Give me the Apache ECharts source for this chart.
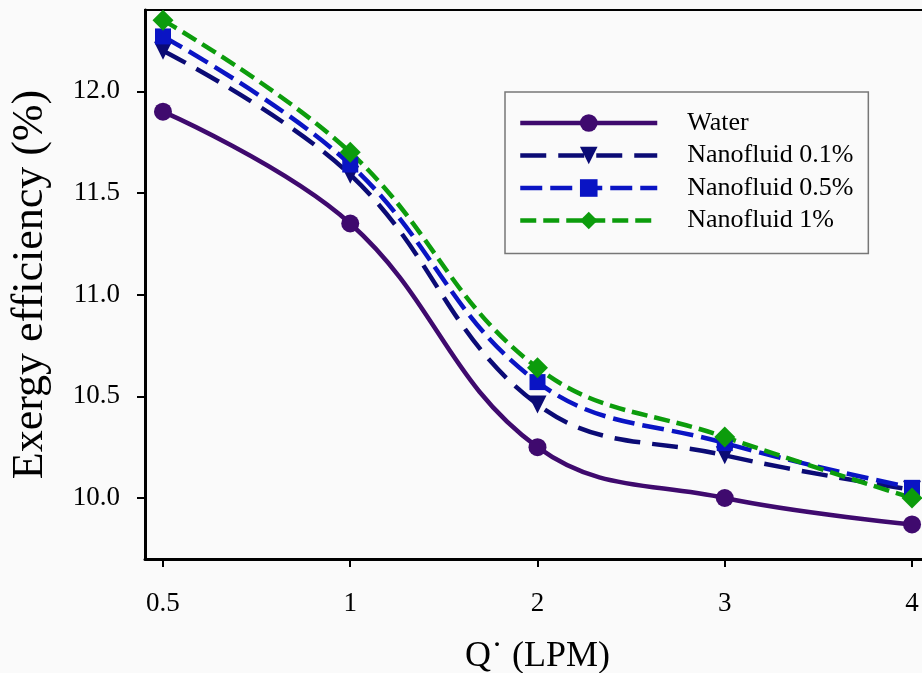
<!DOCTYPE html>
<html>
<head>
<meta charset="utf-8">
<script src="https://cdn.jsdelivr.net/npm/echarts@6/dist/echarts.min.js"></script>
<style>html,body{margin:0;padding:0;background:#fafafa;}#c{width:922px;height:673px;}</style>
</head>
<body>
<div id="c"></div>
<script>
var categories = ['0.5', '1', '2', '3', '4'];
var yTicks = [10.0, 10.5, 11.0, 11.5, 12.0];
var water = [11.90, 11.35, 10.25, 10.00, 9.87];
var nano01 = [12.20, 11.59, 10.46, 10.21, 10.04];
var nano05 = [12.27, 11.64, 10.57, 10.27, 10.05];
var nano1 = [12.35, 11.70, 10.64, 10.30, 10.00];

function pairs(arr) { return arr.map(function (v, i) { return [i, v]; }); }
var xTicks = categories.map(function (c, i) { return i; });
var font = '"Liberation Serif", "Times New Roman", serif';

var chart = echarts.init(document.getElementById('c'));
chart.setOption({
  backgroundColor: '#fafafa',
  animation: false,
  grid: { left: 145, top: 10, right: -8, bottom: 114, outerBoundsMode: 'none', containLabel: false,
    show: true, borderColor: '#000', borderWidth: 2, backgroundColor: 'transparent' },
  xAxis: {
    type: 'value', min: -0.096, max: 4.096,
    name: 'Q\u02D9 (LPM)', nameLocation: 'middle', nameGap: 80,
    nameTextStyle: { fontFamily: font, fontSize: 36, color: '#000' },
    axisLine: { show: true, onZero: false, lineStyle: { color: '#000', width: 3 } },
    axisTick: { show: true, length: 8, lineStyle: { color: '#000', width: 2 }, customValues: xTicks },
    axisLabel: { fontFamily: font, fontSize: 27, color: '#000', margin: 31, customValues: xTicks,
      formatter: function (v) { return categories[Math.round(v)]; } },
    splitLine: { show: false }
  },
  yAxis: {
    type: 'value', min: 9.7, max: 12.4,
    name: 'Exergy efficiency (%)', nameLocation: 'middle', nameGap: 93,
    nameTextStyle: { fontFamily: font, fontSize: 44, color: '#000' },
    axisLine: { show: true, onZero: false, lineStyle: { color: '#000', width: 3 } },
    axisTick: { show: true, length: 8, lineStyle: { color: '#000', width: 2 }, customValues: yTicks },
    axisLabel: { fontFamily: font, fontSize: 27, color: '#000', margin: 25, customValues: yTicks,
      formatter: function (v) { return v.toFixed(1); } },
    splitLine: { show: false }
  },
  legend: {
    orient: 'vertical', left: 505, top: 92,
    padding: [18, 15, 20, 13],
    backgroundColor: '#fafafa', borderColor: '#777', borderWidth: 1.5,
    itemWidth: 137, itemHeight: 22, itemGap: 6.5,
    lineStyle: { width: 4.5 },
    textStyle: { fontFamily: font, fontSize: 26, lineHeight: 26, color: '#000', padding: [0, 0, 0, 25] },
    data: ['Water', 'Nanofluid 0.1%', 'Nanofluid 0.5%', 'Nanofluid 1%']
  },
  series: [
    { name: 'Water', type: 'line', smooth: 0.4, data: pairs(water), symbol: 'circle', symbolSize: 18,
      lineStyle: { color: '#3f0a6e', width: 4.5 }, itemStyle: { color: '#3f0a6e' } },
    { name: 'Nanofluid 0.1%', type: 'line', smooth: 0.4, data: pairs(nano01), symbol: 'triangle', symbolRotate: 180, symbolSize: 18,
      lineStyle: { color: '#0b0b75', width: 4.5, type: [26, 12] }, itemStyle: { color: '#0b0b75' } },
    { name: 'Nanofluid 0.5%', type: 'line', smooth: 0.4, data: pairs(nano05), symbol: 'rect', symbolSize: 16,
      lineStyle: { color: '#0a14c4', width: 4.5, type: [22, 8] }, itemStyle: { color: '#0a14c4' } },
    { name: 'Nanofluid 1%', type: 'line', smooth: 0.4, data: pairs(nano1), symbol: 'diamond', symbolSize: 21,
      lineStyle: { color: '#0c9c0c', width: 4.5, type: [16, 7] }, itemStyle: { color: '#0c9c0c' } }
  ]
});
</script>
</body>
</html>
